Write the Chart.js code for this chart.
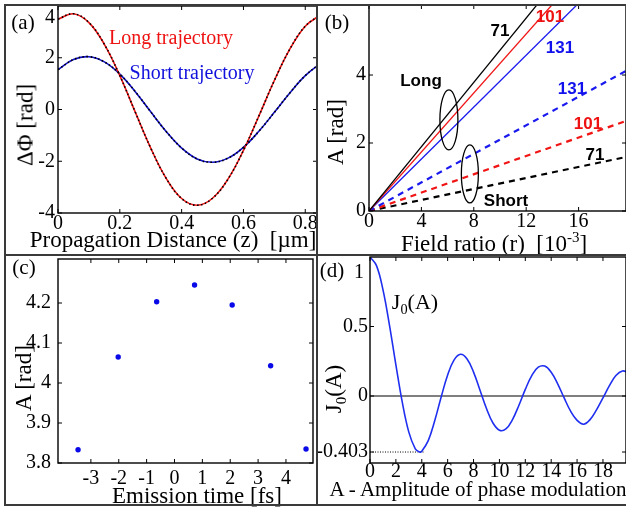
<!DOCTYPE html>
<html lang="en">
<head>
<meta charset="UTF-8">
<title>Phase modulation figure</title>
<script src="https://cdn.jsdelivr.net/npm/chart.js"></script>
<style>
  body { margin: 0; background: #fff; }
  #fig { position: relative; width: 626px; height: 508px; overflow: hidden;
         font-family: "Liberation Serif", "Times New Roman", serif; color: #000; }
  .painel { position: absolute; }
  .borda { position: absolute; background: #3a3a3a; z-index: 3; }
  .txt { position: absolute; white-space: nowrap; line-height: 1; transform: translate(-50%, -50%); z-index: 2; }
  .vert { transform: translate(-50%, -50%) rotate(-90deg); }
  .num { font-family: "Liberation Sans", Arial, sans-serif; font-weight: bold; font-size: 17px; }
  sub, sup { font-size: 65%; line-height: 0; }
</style>
</head>
<body>
<div id="fig">
  <div class="painel" style="left:5px;top:5px;width:312px;height:250px"><canvas id="ga"></canvas></div>
  <div class="painel" style="left:317px;top:5px;width:309px;height:250px"><canvas id="gb"></canvas></div>
  <div class="painel" style="left:5px;top:255px;width:312px;height:250px"><canvas id="gc"></canvas></div>
  <div class="painel" style="left:317px;top:255px;width:309px;height:250px"><canvas id="gd"></canvas></div>

  <!-- moldura da figura -->
  <div class="borda" style="left:4px;top:4px;width:622px;height:2px"></div>
  <div class="borda" style="left:4px;top:4px;width:2px;height:502px"></div>
  <div class="borda" style="left:316px;top:4px;width:2px;height:502px"></div>
  <div class="borda" style="left:4px;top:254px;width:622px;height:2px"></div>
  <div class="borda" style="left:4px;top:504px;width:622px;height:2px"></div>

  <!-- (a) -->
  <div class="txt" style="left:23px;top:22px;font-size:21px">(a)</div>
  <div class="txt" style="left:50px;top:16px;font-size:20px">4</div>
  <div class="txt" style="left:171px;top:37px;font-size:20px;color:#ee1111">Long trajectory</div>
  <div class="txt" style="left:192px;top:72px;font-size:20px;color:#1111dd">Short trajectory</div>
  <div class="txt vert" style="left:25px;top:125px;font-size:23px">&Delta;&Phi; [rad]</div>
  <div class="txt" style="left:173px;top:239px;font-size:23px">Propagation Distance (z)&nbsp; [&micro;m]</div>

  <!-- (b) -->
  <div class="txt" style="left:337px;top:22px;font-size:21px">(b)</div>
  <div class="txt vert" style="left:335px;top:132px;font-size:23px">A [rad]</div>
  <div class="txt" style="left:494px;top:243px;font-size:23px">Field ratio (r)&nbsp; [10<sup>-3</sup>]</div>
  <div class="txt num" style="left:500px;top:30px">71</div>
  <div class="txt num" style="left:550px;top:16px;color:#ee1111">101</div>
  <div class="txt num" style="left:560px;top:47px;color:#1111ee">131</div>
  <div class="txt num" style="left:421px;top:80px">Long</div>
  <div class="txt num" style="left:572px;top:88px;color:#1111ee">131</div>
  <div class="txt num" style="left:588px;top:123px;color:#ee1111">101</div>
  <div class="txt num" style="left:595px;top:154px">71</div>
  <div class="txt num" style="left:506px;top:200px">Short</div>

  <!-- (c) -->
  <div class="txt" style="left:24px;top:267px;font-size:21px">(c)</div>
  <div class="txt vert" style="left:23px;top:378px;font-size:23px">A [rad]</div>
  <div class="txt" style="left:197px;top:495px;font-size:23px">Emission time [fs]</div>

  <!-- (d) -->
  <div class="txt" style="left:332px;top:270px;font-size:21px">(d)</div>
  <div class="txt" style="left:359px;top:271px;font-size:20px">1</div>
  <div class="txt" style="left:415px;top:302px;font-size:22px">J<sub>0</sub>(A)</div>
  <div class="txt vert" style="left:333px;top:389px;font-size:23px">J<sub>0</sub>(A)</div>
  <div class="txt" style="left:478px;top:489px;font-size:21px">A - Amplitude of phase modulation</div>
</div>

<script>
// ---------- (a) diferença de fase ao longo da propagação
const distanciaZ = [0, 0.05, 0.1, 0.15, 0.2, 0.25, 0.3, 0.35, 0.4, 0.45, 0.5, 0.55, 0.6, 0.65, 0.7, 0.75, 0.8, 0.85];
const faseLonga  = [3.49, 3.70, 3.36, 2.52, 1.31, -0.10, -1.49, -2.66, -3.44, -3.70, -3.43, -2.69, -1.58, -0.25, 1.12, 2.33, 3.22, 3.66];
const faseCurta  = [1.54, 1.93, 2.04, 1.84, 1.37, 0.69, -0.09, -0.85, -1.49, -1.91, -2.04, -1.88, -1.46, -0.84, -0.11, 0.64, 1.31, 1.79];
const ticksAx = [0, 0.2, 0.4, 0.6, 0.8];
const ticksAy = [-4, -2, 0, 2];

// ---------- (b) amplitude x razão de campo (harmônicas 71, 101, 131)
const razaoCampo = [0, 20];
const longa71  = [0, 9.46];
const longa101 = [0, 8.68];
const longa131 = [0, 7.64];
const curta131 = [0, 4.20];
const curta101 = [0, 2.70];
const curta71  = [0, 1.62];
const ticksBx = [0, 4, 8, 12, 16];
const ticksBy = [0, 2, 4];

// ---------- (c) amplitude x tempo de emissão
const tempoEmissao = [-3.46, -2.02, -0.64, 0.72, 2.07, 3.45, 4.72];
const amplitudeC   = [3.833, 4.065, 4.203, 4.245, 4.195, 4.043, 3.835];
const ticksCx = [-3, -2, -1, 0, 1, 2, 3, 4];
const ticksCy = [3.8, 3.9, 4, 4.1, 4.2];

// ---------- (d) função de Bessel J0(A)
const amplitudeD = [0, 0.5, 1, 1.5, 2, 2.5, 3, 3.5, 3.83, 4, 4.5, 5, 5.5, 6, 6.5, 7, 7.5, 8, 8.5, 9, 9.5, 10,
                    10.5, 11, 11.5, 12, 12.5, 13, 13.5, 14, 14.5, 15, 15.5, 16, 16.5, 17, 17.5, 18, 18.5, 19, 19.5, 20];
const besselJ0 = [1.000, 0.938, 0.765, 0.512, 0.224, -0.048, -0.260, -0.380, -0.403, -0.397, -0.321, -0.178, -0.007,
                  0.151, 0.260, 0.300, 0.266, 0.172, 0.042, -0.090, -0.194, -0.246, -0.237, -0.171, -0.068, 0.048,
                  0.147, 0.207, 0.215, 0.171, 0.088, -0.014, -0.109, -0.175, -0.203, -0.170, -0.100, -0.014, 0.074,
                  0.147, 0.180, 0.167];
const linhaZeroX = [0, 20];
const linhaZeroY = [0, 0];
const minimoX = [0, 4.25];
const minimoY = [-0.403, -0.403];
const ticksDx = [0, 2, 4, 6, 8, 10, 12, 14, 16, 18];
const ticksDy = [-0.403, 0, 0.5];

const SERIF = '"Liberation Serif", "Times New Roman", serif';
const VERMELHO = '#f01414';
const AZUL = '#1a1aee';

function pares(xs, ys) {
  return xs.map((x, i) => ({ x: x, y: ys[i] }));
}

// caixa do gráfico com marcas de escala para dentro
const caixa = {
  id: 'caixa',
  afterDatasetsDraw(chart) {
    const { ctx, chartArea: a, scales: { x, y } } = chart;
    ctx.save();
    ctx.strokeStyle = '#000';
    ctx.lineWidth = 1.4;
    ctx.strokeRect(a.left, a.top, a.right - a.left, a.bottom - a.top);
    ctx.lineWidth = 1;
    ctx.beginPath();
    x.ticks.forEach(t => {
      const p = x.getPixelForValue(t.value);
      ctx.moveTo(p, a.bottom); ctx.lineTo(p, a.bottom - 4);
      ctx.moveTo(p, a.top); ctx.lineTo(p, a.top + 4);
    });
    y.ticks.forEach(t => {
      const p = y.getPixelForValue(t.value);
      ctx.moveTo(a.left, p); ctx.lineTo(a.left + 4, p);
      ctx.moveTo(a.right, p); ctx.lineTo(a.right - 4, p);
    });
    ctx.stroke();
    ctx.restore();
  }
};

// elipses que agrupam as trajetórias no painel (b)
const elipses = {
  id: 'elipses',
  afterDatasetsDraw(chart, args, opts) {
    if (!opts.lista) return;
    const { ctx, scales: { x, y } } = chart;
    ctx.save();
    ctx.strokeStyle = '#000';
    ctx.lineWidth = 1.3;
    opts.lista.forEach(e => {
      ctx.beginPath();
      ctx.ellipse(x.getPixelForValue(e.r), y.getPixelForValue(e.a), e.rx, e.ry, 0, 0, 2 * Math.PI);
      ctx.stroke();
    });
    ctx.restore();
  }
};

function eixo(lim, valores, horizontal, tamanho, pad) {
  return {
    type: 'linear',
    min: lim[0],
    max: lim[1],
    grid: { display: false, drawTicks: false },
    border: { display: false },
    ticks: {
      color: '#000',
      padding: pad,
      autoSkip: false,
      maxRotation: 0,
      font: { family: SERIF, size: 20, lineHeight: 1 },
      callback: v => String(v)
    },
    afterBuildTicks: s => { s.ticks = valores.map(v => ({ value: v })); },
    afterFit: s => {
      if (horizontal) s.height = tamanho; else s.width = tamanho;
      s.paddingTop = 0; s.paddingBottom = 0; s.paddingLeft = 0; s.paddingRight = 0;
    }
  };
}

function grafico(id, datasets, c, extras) {
  return new Chart(document.getElementById(id), {
    type: 'scatter',
    data: { datasets: datasets },
    options: {
      responsive: true,
      maintainAspectRatio: false,
      animation: false,
      devicePixelRatio: 1,
      layout: { padding: { top: c.topo, left: 0, right: 0, bottom: 0 } },
      plugins: Object.assign({ legend: { display: false }, tooltip: { enabled: false } }, extras || {}),
      scales: {
        x: eixo(c.limX, c.ticksX, true, c.altX, c.padX),
        y: eixo(c.limY, c.ticksY, false, c.largY, c.padY)
      }
    },
    plugins: [caixa, elipses]
  });
}

function linha(xs, ys, cor, larg, tracejado, ordem, tensao) {
  return {
    data: pares(xs, ys), showLine: true, borderColor: cor, borderWidth: larg,
    borderDash: tracejado || [], pointRadius: 0, tension: tensao || 0, order: ordem || 0
  };
}

// (a)
grafico('ga', [
  linha(distanciaZ, faseLonga, '#000', 1.6, [1.5, 2.5], 0, 0.4),
  linha(distanciaZ, faseCurta, '#000', 1.6, [1.5, 2.5], 0, 0.4),
  linha(distanciaZ, faseLonga, VERMELHO, 1.6, null, 1, 0.4),
  linha(distanciaZ, faseCurta, '#1010c8', 1.6, null, 1, 0.4)
], { topo: 1, limX: [0, 0.838], limY: [-4, 4], ticksX: ticksAx, ticksY: ticksAy, altX: 42, largY: 53, padX: 1, padY: 3 });

// (b)
grafico('gb', [
  linha(razaoCampo, longa71, '#000', 1.3),
  linha(razaoCampo, longa101, VERMELHO, 1.3),
  linha(razaoCampo, longa131, AZUL, 1.3),
  linha(razaoCampo, curta131, AZUL, 2.2, [6, 5]),
  linha(razaoCampo, curta101, VERMELHO, 2.2, [6, 5]),
  linha(razaoCampo, curta71, '#000', 2.2, [6, 5])
], { topo: 0, limX: [0, 19.62], limY: [0, 6.06], ticksX: ticksBx, ticksY: ticksBy, altX: 44, largY: 52, padX: 1, padY: 3 },
{ elipses: { lista: [ { r: 6.1, a: 2.68, rx: 9, ry: 30 }, { r: 7.7, a: 1.09, rx: 8.5, ry: 29 } ] } });

// (c)
grafico('gc', [
  { data: pares(tempoEmissao, amplitudeC), pointRadius: 2.7, pointBackgroundColor: '#0a0ae8', pointBorderWidth: 0 }
], { topo: 3, limX: [-4.18, 4.97], limY: [3.8, 4.31], ticksX: ticksCx, ticksY: ticksCy, altX: 42, largY: 53, padX: 6, padY: 7 });

// (d)
grafico('gd', [
  linha(amplitudeD, besselJ0, '#1f2ff0', 1.6, null, 0, 0.4),
  linha(linhaZeroX, linhaZeroY, '#000', 1, null, 1),
  linha(minimoX, minimoY, '#000', 1, [1, 1.5], 1)
], { topo: 2, limX: [0, 19.78], limY: [-0.482, 1.0], ticksX: ticksDx, ticksY: ticksDy, altX: 42, largY: 53, padX: -1, padY: 2 });
</script>
</body>
</html>
